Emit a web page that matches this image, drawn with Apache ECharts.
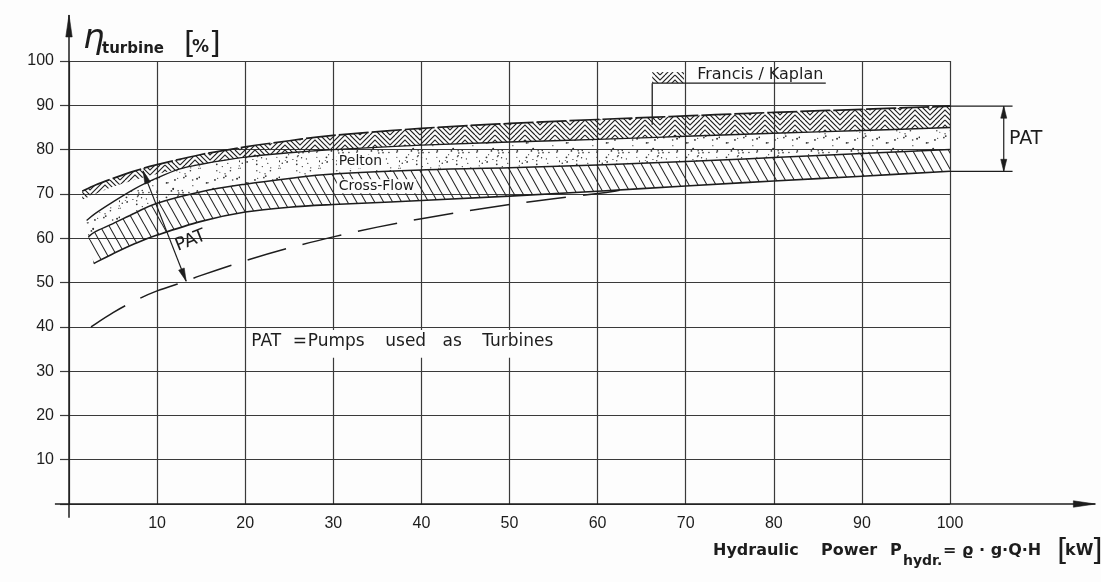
<!DOCTYPE html>
<html>
<head>
<meta charset="utf-8">
<title>Turbine efficiency vs. hydraulic power</title>
<script src="https://cdn.jsdelivr.net/npm/echarts@6/dist/echarts.min.js"></script>
<style>
  html, body { margin: 0; padding: 0; background: #fdfdfd; }
  #chart { width: 1101px; height: 582px; }
</style>
</head>
<body>
<div id="chart"></div>
<script>
// Efficiency ranges of small hydro turbines over hydraulic power.
// Every boundary is a list of [hydraulic power kW, efficiency %].

const xTickLabels = [10, 20, 30, 40, 50, 60, 70, 80, 90, 100];
const yTickLabels = [10, 20, 30, 40, 50, 60, 70, 80, 90, 100];

const francisTop = [
  [1.5, 70.6], [3, 72.0], [5, 73.5], [7.5, 75.2], [10, 76.6], [15, 78.9], [20, 80.6],
  [25, 82.0], [30, 83.2], [40, 84.8], [50, 85.9], [60, 86.8], [70, 87.6], [80, 88.4],
  [90, 89.1], [100, 89.8]
];
const francisBottom = [
  [1.5, 68.7], [3, 70.0], [5, 71.6], [7.5, 73.2], [10, 74.5], [12.5, 75.6], [15, 76.7],
  [20, 78.3], [25, 79.3], [30, 80.0], [40, 81.0], [50, 81.7], [60, 82.3], [70, 83.0],
  [80, 83.7], [90, 84.3], [100, 85.0]
];
const peltonTop = [
  [2, 64.0], [3, 65.6], [5, 68.2], [7.5, 71.2], [10, 73.6], [12.5, 75.6], [15, 76.7],
  [20, 78.3], [25, 79.3], [30, 80.0], [40, 81.0], [50, 81.7], [60, 82.3], [70, 83.0],
  [80, 83.7], [90, 84.3], [100, 85.0]
];
const crossFlowTop = [
  [2.2, 60.3], [3, 61.5], [5, 63.3], [7.5, 65.7], [10, 67.9], [15, 70.5], [20, 72.2],
  [25, 73.5], [30, 74.5], [40, 75.4], [50, 75.9], [60, 76.5], [70, 77.3], [80, 78.2],
  [90, 79.1], [100, 80.0]
];
const crossFlowBottom = [
  [2.8, 54.3], [5, 56.5], [7.5, 58.8], [10, 60.7], [15, 63.8], [20, 65.9], [25, 67.0],
  [30, 67.6], [40, 68.5], [50, 69.5], [60, 70.6], [70, 71.8], [80, 72.9], [90, 74.0],
  [100, 75.1]
];
// lower limit of pumps used as turbines
const patLower = [
  [2.5, 40.0], [5, 43.2], [7.5, 45.9], [10, 48.1], [13.3, 50.3], [15, 51.6], [20, 54.9],
  [25, 57.8], [30, 60.3], [35, 62.5], [40, 64.4], [45, 66.1], [50, 67.6], [55, 68.9],
  [60, 70.1], [62.5, 70.8]
];

const INK = '#1d1d1d';
const GRID = '#3a3a3a';
const PAPER = '#fdfdfd';
const FONT = '"DejaVu Sans", "Liberation Sans", sans-serif';

// ---- fill textures ----
function makeTile(w, h, draw) {
  const c = document.createElement('canvas');
  c.width = w; c.height = h;
  draw(c.getContext('2d'), w, h);
  return c;
}
const diagonalHatch = makeTile(9, 16, (g, w, h) => {
  g.strokeStyle = '#262626'; g.lineWidth = 1.1; g.beginPath();
  for (let k = -1; k <= 1; k++) { g.moveTo(k * w, 0); g.lineTo(k * w + w, h); }
  g.stroke();
});
const herringbone = makeTile(30, 15, (g, w, h) => {
  const half = w / 2, s = 5;
  g.strokeStyle = '#222'; g.lineWidth = 1.15;
  g.save(); g.beginPath(); g.rect(0, 0, half, h); g.clip(); g.beginPath();
  for (let x = -h; x <= half + h; x += s) { g.moveTo(x, h); g.lineTo(x + h, 0); }
  g.stroke(); g.restore();
  g.save(); g.beginPath(); g.rect(half, 0, half, h); g.clip(); g.beginPath();
  for (let x = half - h; x <= w + h; x += s) { g.moveTo(x, 0); g.lineTo(x + h, h); }
  g.stroke(); g.restore();
});
const stipple = makeTile(40, 40, (g, w, h) => {
  g.fillStyle = '#333';
  const hash = n => { const v = Math.sin(n * 12.9898) * 43758.5453; return v - Math.floor(v); };
  for (let i = 1; i <= 44; i++) {
    const x = hash(i) * w, y = hash(i + 100) * h, r = 0.5 + hash(i + 200) * 0.5;
    g.beginPath(); g.arc(x, y, r, 0, Math.PI * 2); g.fill();
  }
});
const pattern = img => ({ image: img, repeat: 'repeat' });

// ---- geometry helpers (pixel space) ----
function splinePath(pts, start) {
  let d = (start ? 'M' : 'L') + pts[0][0] + ',' + pts[0][1];
  for (let i = 0; i < pts.length - 1; i++) {
    const p0 = pts[i - 1] || pts[i], p1 = pts[i], p2 = pts[i + 1], p3 = pts[i + 2] || p2;
    const c1 = [p1[0] + (p2[0] - p0[0]) / 6, p1[1] + (p2[1] - p0[1]) / 6];
    const c2 = [p2[0] - (p3[0] - p1[0]) / 6, p2[1] - (p3[1] - p1[1]) / 6];
    d += ' C' + c1[0] + ',' + c1[1] + ' ' + c2[0] + ',' + c2[1] + ' ' + p2[0] + ',' + p2[1];
  }
  return d;
}
function seg(a, b, w, dash) {
  return { type: 'line', shape: { x1: a[0], y1: a[1], x2: b[0], y2: b[1] },
    style: { stroke: INK, lineWidth: w || 1.4, lineDash: dash || null } };
}
function head(tip, from, len, hw) {
  const dx = tip[0] - from[0], dy = tip[1] - from[1], L = Math.hypot(dx, dy);
  const ux = dx / L, uy = dy / L, bx = tip[0] - ux * len, by = tip[1] - uy * len;
  return { type: 'polygon', shape: { points: [tip, [bx - uy * hw, by + ux * hw], [bx + uy * hw, by - ux * hw]] },
    style: { fill: INK, stroke: INK, lineWidth: 0.6 } };
}
function label(p, text, size, opts) {
  return Object.assign({ type: 'text', x: p[0], y: p[1],
    style: Object.assign({ text, font: size + 'px ' + FONT, fill: INK, align: 'left', verticalAlign: 'middle' },
      (opts && opts.style) || {}) }, (opts && opts.el) || {});
}

// ---- series ----
function band(name, upper, lower, img) {
  return {
    type: 'custom', name, clip: false, silent: true, z: 2, data: [0],
    renderItem(params, api) {
      const up = upper.map(p => api.coord(p));
      const lo = lower.map(p => api.coord(p)).reverse();
      return { type: 'path', shape: { pathData: splinePath(up, true) + ' ' + splinePath(lo, false) + ' Z' },
        style: { fill: pattern(img), stroke: 'none' } };
    }
  };
}
function curve(name, pts, width, dash) {
  return {
    type: 'custom', name, clip: false, silent: true, z: 3, data: [0],
    renderItem(params, api) {
      return { type: 'path', shape: { pathData: splinePath(pts.map(p => api.coord(p)), true) },
        style: { fill: 'none', stroke: INK, lineWidth: width, lineDash: dash || null, lineCap: 'butt' } };
    }
  };
}

const annotations = {
  type: 'custom', name: 'annotations', clip: false, silent: true, z: 5, data: [0],
  renderItem(params, api) {
    const c = p => api.coord(p);
    const kids = [];
    // axes with arrows
    const yFoot = c([0, -3.1]), yTip = c([0, 110.4]);
    kids.push(seg(yFoot, yTip, 1.5), head(yTip, yFoot, 22, 3.2));
    const xFoot = c([-1.6, 0]), xTip = c([116.5, 0]);
    kids.push(seg(xFoot, xTip, 1.5), head(xTip, xFoot, 22, 3.2));

    // PAT range at the left
    const pa = c([8.4, 75.2]), pb = c([13.3, 50.3]);
    kids.push(seg(pa, pb, 1.2), head(pa, pb, 13, 3), head(pb, pa, 13, 3));
    kids.push(label(c([13.8, 59.4]), 'PAT', 18, { el: { rotation: 0.38 }, style: { align: 'center' } }));

    // PAT range at 100 kW
    const hi = francisTop[francisTop.length - 1][1];
    const lo = crossFlowBottom[crossFlowBottom.length - 1][1];
    kids.push(seg(c([100, hi]), c([107.1, hi]), 1.3), seg(c([100, lo]), c([107.1, lo]), 1.3));
    const ra = c([106.1, hi]), rb = c([106.1, lo]);
    kids.push(seg(ra, rb, 1.2), head(ra, rb, 12, 3), head(rb, ra, 12, 3));
    kids.push(label(c([106.7, (hi + lo) / 2]), 'PAT', 19));

    // Francis / Kaplan key
    const s0 = c([66.2, 97.5]), s1 = c([69.8, 95.0]);
    kids.push({ type: 'rect', shape: { x: s0[0], y: s0[1], width: s1[0] - s0[0], height: s1[1] - s0[1] },
      style: { fill: pattern(herringbone), stroke: 'none' } });
    kids.push(seg(c([66.2, 95.0]), c([85.9, 95.0]), 1.3));
    kids.push(seg(c([66.2, 95.0]), c([66.2, 85.6]), 1.3));
    kids.push(label(c([71.3, 96.8]), 'Francis / Kaplan', 16));

    // band names
    kids.push(label(c([30.4, 77.3]), 'Pelton', 14, { style: { backgroundColor: PAPER, padding: [0, 2] } }));
    kids.push(label(c([30.4, 71.7]), 'Cross-Flow', 14, { style: { backgroundColor: PAPER, padding: [0, 2] } }));

    // explanation of PAT, set on a blank strip of the grid
    const b0 = c([20.5, 39.3]), b1 = c([56.2, 33.0]);
    kids.push({ type: 'rect', shape: { x: b0[0], y: b0[1], width: b1[0] - b0[0], height: b1[1] - b0[1] },
      style: { fill: PAPER, stroke: 'none' } });
    const words = [[20.7, 'PAT'], [25.4, '='], [27.1, 'Pumps'], [35.9, 'used'], [42.4, 'as'], [46.9, 'Turbines']];
    words.forEach(([x, w]) => kids.push(label(c([x, 36.6]), w, 17)));
    return { type: 'group', children: kids };
  }
};

const chart = echarts.init(document.getElementById('chart'), null, { renderer: 'canvas' });
chart.setOption({
  animation: false,
  backgroundColor: PAPER,
  grid: { left: 69, right: 151, top: 61, bottom: 78 },
  xAxis: {
    type: 'value', min: 0, max: 100, interval: 10,
    axisLine: { show: false }, axisTick: { show: false },
    splitLine: { show: true, lineStyle: { color: GRID, width: 1.2 } },
    axisLabel: { margin: 12, color: INK, fontFamily: '"Liberation Sans", sans-serif', fontSize: 16,
      formatter: v => (xTickLabels.includes(v) ? String(v) : '') }
  },
  yAxis: {
    type: 'value', min: 0, max: 100, interval: 10,
    axisLine: { show: false },
    axisTick: { show: true, length: 9, lineStyle: { color: GRID, width: 1.2 } },
    splitLine: { show: true, lineStyle: { color: GRID, width: 1.2 } },
    axisLabel: { margin: 15, color: INK, fontFamily: '"Liberation Sans", sans-serif', fontSize: 16,
      formatter: v => (yTickLabels.includes(v) ? String(v) : '') }
  },
  graphic: [
    { type: 'text', x: 83, y: 39, style: { text: 'η', font: 'italic 34px ' + FONT, fill: INK, verticalAlign: 'middle' } },
    { type: 'text', x: 102, y: 49, style: { text: 'turbine', font: 'bold 15px ' + FONT, fill: INK, verticalAlign: 'middle' } },
    { type: 'text', x: 184, y: 45.5, style: { text: '[', font: '30px ' + FONT, fill: INK, verticalAlign: 'middle' } },
    { type: 'text', x: 192, y: 47.5, style: { text: '%', font: 'bold 17px ' + FONT, fill: INK, verticalAlign: 'middle' } },
    { type: 'text', x: 209, y: 45.5, style: { text: ']', font: '30px ' + FONT, fill: INK, verticalAlign: 'middle' } },

    { type: 'text', x: 713, y: 551, style: { text: 'Hydraulic', font: 'bold 16px ' + FONT, fill: INK, verticalAlign: 'middle' } },
    { type: 'text', x: 821, y: 551, style: { text: 'Power', font: 'bold 16px ' + FONT, fill: INK, verticalAlign: 'middle' } },
    { type: 'text', x: 890, y: 551, style: { text: 'P', font: 'bold 16px ' + FONT, fill: INK, verticalAlign: 'middle' } },
    { type: 'text', x: 903, y: 561, style: { text: 'hydr.', font: 'bold 14px ' + FONT, fill: INK, verticalAlign: 'middle' } },
    { type: 'text', x: 943, y: 551, style: { text: '= ϱ · g·Q·H', font: 'bold 16px ' + FONT, fill: INK, verticalAlign: 'middle' } },
    { type: 'text', x: 1057, y: 552, style: { text: '[', font: '30px ' + FONT, fill: INK, verticalAlign: 'middle' } },
    { type: 'text', x: 1065, y: 551, style: { text: 'kW', font: 'bold 16px ' + FONT, fill: INK, verticalAlign: 'middle' } },
    { type: 'text', x: 1091, y: 552, style: { text: ']', font: '30px ' + FONT, fill: INK, verticalAlign: 'middle' } }
  ],
  series: [
    band('Cross-Flow', crossFlowTop, crossFlowBottom, diagonalHatch),
    band('Pelton', peltonTop, crossFlowTop, stipple),
    band('Francis / Kaplan', francisTop, francisBottom, herringbone),
    curve('Cross-Flow lower', crossFlowBottom, 1.6),
    curve('Cross-Flow upper', crossFlowTop, 1.5),
    curve('Pelton upper', peltonTop, 1.4),
    curve('Francis / Kaplan upper', francisTop, 1.7, [30, 3]),
    curve('PAT lower', patLower, 1.5, [40, 17]),
    annotations
  ]
});
</script>
</body>
</html>
